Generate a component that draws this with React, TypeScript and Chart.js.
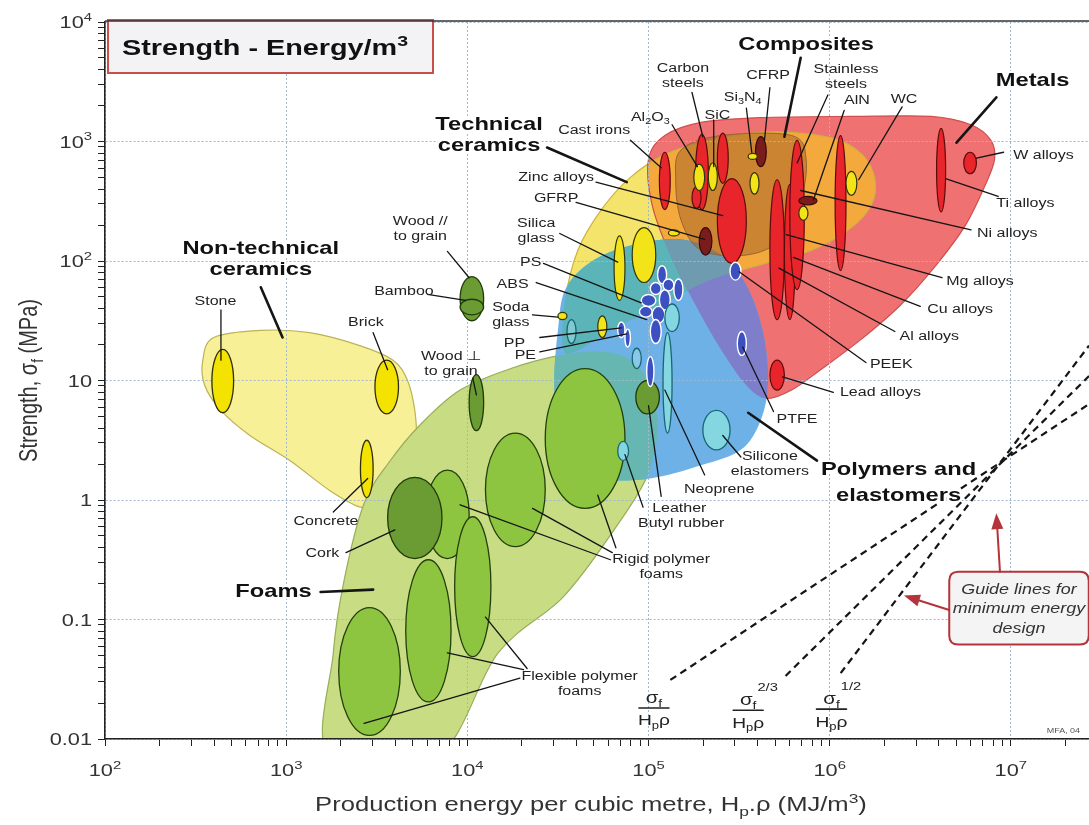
import React, { useEffect, useRef } from "react";
import { Chart, registerables } from "chart.js";

Chart.register(...registerables);

type Pair = [number, number];
type Material = [string, number, number, number, number];

// ---------------- Axes (energy in MJ/m^3, strength in MPa) ----------------
const X_MIN = 1e2;
const X_MAX = 2.7e7;
const Y_MIN = 1e-2;
const Y_MAX = 1e4;
const xTickValues = [1e2, 1e3, 1e4, 1e5, 1e6, 1e7];
const xTickLabels = ["10^{2}", "10^{3}", "10^{4}", "10^{5}", "10^{6}", "10^{7}"];
const yTickValues = [1e-2, 1e-1, 1, 10, 1e2, 1e3, 1e4];
const yTickLabels = ["0.01", "0.1", "1", "10", "10^{2}", "10^{3}", "10^{4}"];

// ---------------- Family envelopes: [log10 energy, log10 strength] ----------------
const nonTechCeramicsEnvelope: Pair[] = [
  [2.6, 1.36], [2.86, 1.42], [3.13, 1.4], [3.41, 1.29], [3.59, 1.17], [3.67, 1.0], [3.71, 0.75],
  [3.72, 0.5], [3.71, 0.25], [3.66, 0.04], [3.55, -0.06], [3.41, -0.06], [3.24, 0.08], [3.02, 0.33],
  [2.8, 0.54], [2.64, 0.75], [2.55, 0.96], [2.54, 1.17],
];
const foamsEnvelope: Pair[] = [
  [3.24, -2.15], [3.83, -2.15], [4.17, -1.28], [4.53, -0.81], [4.81, -0.25], [4.99, 0.19], [5.05, 0.59],
  [5.01, 0.96], [4.9, 1.17], [4.74, 1.24], [4.51, 1.21], [4.24, 1.1], [3.96, 0.92], [3.74, 0.63],
  [3.57, 0.32], [3.43, -0.03], [3.32, -0.67], [3.26, -1.28],
];
const techCeramicsEnvelope: Pair[] = [
  [4.53, 1.26], [4.54, 1.67], [4.61, 2.09], [4.74, 2.43], [4.9, 2.7], [5.09, 2.89], [5.34, 3.01],
  [5.67, 3.08], [6.01, 3.03], [6.18, 2.89], [6.25, 2.68], [6.23, 2.47], [6.12, 2.28], [5.9, 2.09],
  [5.62, 1.97], [5.34, 1.84], [5.07, 1.63], [4.79, 1.42], [4.62, 1.26],
];
const metalsEnvelope: Pair[] = [
  [5.0, 2.85], [5.09, 3.05], [5.29, 3.16], [5.62, 3.2], [6.12, 3.21], [6.56, 3.21], [6.78, 3.14],
  [6.89, 3.01], [6.91, 2.85], [6.86, 2.64], [6.75, 2.3], [6.59, 1.97], [6.39, 1.63], [6.17, 1.34],
  [5.95, 1.09], [5.79, 0.92], [5.65, 0.85], [5.54, 0.96], [5.4, 1.26], [5.26, 1.63], [5.12, 2.05],
  [5.02, 2.47],
];
const polymersEnvelope: Pair[] = [
  [4.5, 1.42], [4.54, 1.76], [4.68, 1.99], [4.9, 2.13], [5.18, 2.18], [5.4, 2.05], [5.54, 1.8],
  [5.63, 1.42], [5.66, 1.0], [5.62, 0.67], [5.51, 0.42], [5.29, 0.29], [5.01, 0.18], [4.74, 0.17],
  [4.57, 0.25], [4.5, 0.59], [4.48, 1.0],
];
const compositesEnvelope: Pair[] = [
  [5.18, 2.93], [5.4, 3.05], [5.79, 3.05], [5.87, 2.85], [5.84, 2.51], [5.73, 2.18], [5.54, 2.05],
  [5.29, 2.09], [5.18, 2.34], [5.15, 2.68],
];

// ---------------- Materials: [name, log10 E low, log10 E high, log10 σ low, log10 σ high] ----------------
const nonTechCeramics: Material[] = [
  ["Stone", 2.59, 2.71, 0.73, 1.26],
  ["Brick", 3.49, 3.62, 0.72, 1.17],
  ["Concrete", 3.41, 3.48, 0.02, 0.5],
];
const rigidFoams: Material[] = [
  ["Rigid foam HD", 4.43, 4.87, -0.07, 1.1],
  ["Rigid foam MD", 4.1, 4.43, -0.39, 0.56],
  ["Rigid foam LD", 3.77, 4.01, -0.49, 0.25],
];
const naturalMaterials: Material[] = [
  ["Cork", 3.56, 3.86, -0.49, 0.19],
  ["Wood ⊥ grain", 4.01, 4.09, 0.58, 1.05],
  ["Wood // grain", 3.96, 4.09, 1.5, 1.87],
  ["Bamboo", 3.96, 4.09, 1.55, 1.68],
  ["Leather", 4.93, 5.06, 0.72, 1.0],
];
const flexibleFoams: Material[] = [
  ["Flexible foam HD", 3.93, 4.13, -1.31, -0.14],
  ["Flexible foam MD", 3.66, 3.91, -1.69, -0.5],
  ["Flexible foam LD", 3.29, 3.63, -1.97, -0.9],
];
const metals: Material[] = [
  ["Cast irons", 5.06, 5.12, 2.43, 2.91],
  ["Carbon steels", 5.26, 5.33, 2.43, 3.06],
  ["Carbon steels (low)", 5.24, 5.29, 2.44, 2.62],
  ["Low alloy steels", 5.38, 5.44, 2.65, 3.07],
  ["Zinc alloys", 5.38, 5.54, 1.98, 2.69],
  ["Mg alloys", 5.67, 5.75, 1.51, 2.68],
  ["Cu alloys", 5.75, 5.81, 1.51, 2.64],
  ["Stainless steels", 5.78, 5.86, 1.76, 3.01],
  ["Ni alloys", 6.03, 6.09, 1.92, 3.05],
  ["Ti alloys", 6.59, 6.64, 2.41, 3.11],
  ["W alloys", 6.74, 6.81, 2.73, 2.91],
  ["Lead alloys", 5.67, 5.75, 0.92, 1.17],
];
const composites: Material[] = [
  ["GFRP", 5.28, 5.35, 2.05, 2.28],
  ["CFRP", 5.59, 5.65, 2.79, 3.04],
  ["Al-SiC", 5.83, 5.93, 2.47, 2.54],
];
const techCeramics: Material[] = [
  ["Silica glass", 4.81, 4.87, 1.67, 2.21],
  ["Glass ceramic", 4.91, 5.04, 1.82, 2.28],
  ["Soda glass", 4.5, 4.55, 1.51, 1.57],
  ["Borosilicate glass", 4.72, 4.77, 1.36, 1.54],
  ["Zirconia", 5.11, 5.17, 2.21, 2.26],
  ["Al2O3", 5.25, 5.31, 2.59, 2.81],
  ["SiC", 5.33, 5.38, 2.59, 2.82],
  ["Si3N4", 5.55, 5.6, 2.85, 2.9],
  ["B4C", 5.56, 5.61, 2.56, 2.74],
  ["WC", 6.09, 6.15, 2.55, 2.75],
  ["AlN", 5.83, 5.88, 2.34, 2.46],
];
const polymers: Material[] = [
  ["PEEK", 5.45, 5.51, 1.84, 1.99],
  ["PTFE", 5.49, 5.54, 1.21, 1.41],
  ["PMMA", 5.05, 5.1, 1.81, 1.96],
  ["PC", 5.01, 5.07, 1.72, 1.82],
  ["PA", 5.08, 5.14, 1.75, 1.85],
  ["PS", 4.96, 5.04, 1.62, 1.72],
  ["Epoxies", 5.06, 5.12, 1.59, 1.76],
  ["PET", 5.14, 5.19, 1.67, 1.85],
  ["ABS", 4.95, 5.02, 1.53, 1.62],
  ["PVC", 5.02, 5.09, 1.48, 1.62],
  ["Phenolics", 5.01, 5.07, 1.31, 1.51],
  ["Ionomer", 4.99, 5.03, 0.95, 1.2],
  ["PP", 4.83, 4.87, 1.36, 1.49],
  ["PE", 4.87, 4.9, 1.28, 1.43],
];
const elastomers: Material[] = [
  ["Polyurethane", 5.09, 5.17, 1.41, 1.64],
  ["Neoprene", 5.08, 5.13, 0.56, 1.4],
  ["Silicone elastomers", 5.3, 5.45, 0.42, 0.75],
  ["Butyl rubber", 4.83, 4.89, 0.33, 0.49],
];
const lightElastomers: Material[] = [
  ["Isoprene", 4.55, 4.6, 1.31, 1.51],
  ["EVA", 4.91, 4.96, 1.1, 1.27],
];

// ---------------- Guide lines for minimum energy design ----------------
const guideEnergy1 = [1.32e5, 2.7e7];
const guideStrength1 = [0.0312, 6.35]; // σf / Hpρ
const guideEnergy2 = [5.71e5, 2.7e7];
const guideStrength2 = [0.0337, 10.9]; // σf^2/3 / Hpρ
const guideEnergy3 = [1.15e6, 2.7e7];
const guideStrength3 = [0.0356, 19.6]; // σf^1/2 / Hpρ

// ---------------- Annotations (anchors in log10 data units) ----------------
const smallLabels: { t: string; at: Pair }[] = [
  { t: "Carbon\nsteels", at: [5.19, 3.56] },
  { t: "Al_{2}O_{3}", at: [5.01, 3.21] },
  { t: "SiC", at: [5.38, 3.23] },
  { t: "Si_{3}N_{4}", at: [5.52, 3.38] },
  { t: "CFRP", at: [5.66, 3.56] },
  { t: "Stainless\nsteels", at: [6.09, 3.55] },
  { t: "AlN", at: [6.15, 3.35] },
  { t: "WC", at: [6.41, 3.36] },
  { t: "W alloys", at: [7.18, 2.89] },
  { t: "Ti alloys", at: [7.08, 2.49] },
  { t: "Ni alloys", at: [6.98, 2.24] },
  { t: "Mg alloys", at: [6.83, 1.84] },
  { t: "Cu alloys", at: [6.72, 1.6] },
  { t: "Al alloys", at: [6.55, 1.38] },
  { t: "PEEK", at: [6.34, 1.14] },
  { t: "Lead alloys", at: [6.28, 0.91] },
  { t: "PTFE", at: [5.82, 0.68] },
  { t: "Silicone\nelastomers", at: [5.67, 0.31] },
  { t: "Neoprene", at: [5.39, 0.1] },
  { t: "Leather", at: [5.17, -0.06] },
  { t: "Butyl rubber", at: [5.18, -0.19] },
  { t: "Rigid polymer\nfoams", at: [5.07, -0.55] },
  { t: "Flexible polymer\nfoams", at: [4.62, -1.53] },
  { t: "Concrete", at: [3.22, -0.17] },
  { t: "Cork", at: [3.2, -0.44] },
  { t: "Stone", at: [2.61, 1.67] },
  { t: "Brick", at: [3.44, 1.49] },
  { t: "Bamboo", at: [3.65, 1.75] },
  { t: "Wood //\nto grain", at: [3.74, 2.28] },
  { t: "Wood ⊥\nto grain", at: [3.91, 1.15] },
  { t: "Cast irons", at: [4.7, 3.1] },
  { t: "Zinc alloys", at: [4.49, 2.71] },
  { t: "GFRP", at: [4.49, 2.53] },
  { t: "Silica\nglass", at: [4.38, 2.26] },
  { t: "PS", at: [4.35, 2.0] },
  { t: "ABS", at: [4.25, 1.81] },
  { t: "Soda\nglass", at: [4.24, 1.56] },
  { t: "PP", at: [4.26, 1.32] },
  { t: "PE", at: [4.32, 1.22] },
];
const familyLabels: { t: string; at: Pair; lh?: number }[] = [
  { t: "Composites", at: [5.87, 3.82] },
  { t: "Metals", at: [7.12, 3.52] },
  { t: "Polymers and\nelastomers", at: [6.38, 0.16], lh: 26 },
  { t: "Foams", at: [2.93, -0.76] },
  { t: "Non-technical\nceramics", at: [2.86, 2.03] },
  { t: "Technical\nceramics", at: [4.12, 3.06] },
];
// [E1, σ1, E2, σ2, thick]
const leaderLines: number[][] = [
  [5.24, 3.41, 5.3, 3.04, 0], [5.13, 3.14, 5.27, 2.79, 0], [5.36, 3.18, 5.36, 2.79, 0],
  [5.54, 3.28, 5.57, 2.91, 0], [5.67, 3.45, 5.64, 3.01, 0], [5.84, 3.7, 5.75, 3.04, 1],
  [5.99, 3.39, 5.82, 2.82, 0], [6.08, 3.26, 5.91, 2.51, 0], [6.4, 3.29, 6.16, 2.68, 0],
  [6.92, 3.37, 6.7, 2.99, 1], [6.96, 2.91, 6.81, 2.86, 0], [6.93, 2.54, 6.64, 2.69, 0],
  [6.78, 2.26, 5.84, 2.59, 0], [6.62, 1.86, 5.76, 2.22, 0], [6.5, 1.62, 5.8, 2.03, 0],
  [6.36, 1.41, 5.72, 1.94, 0], [6.2, 1.15, 5.5, 1.91, 0], [6.02, 0.9, 5.74, 1.03, 0],
  [5.69, 0.74, 5.52, 1.28, 0], [5.51, 0.36, 5.41, 0.54, 0], [5.93, 0.33, 5.55, 0.73, 1],
  [5.31, 0.21, 5.09, 0.92, 0], [5.07, 0.03, 5.0, 0.79, 0], [4.97, -0.06, 4.87, 0.38, 0],
  [4.82, -0.4, 4.72, 0.04, 0], [4.8, -0.44, 4.36, -0.07, 0], [4.79, -0.5, 3.96, -0.04, 0],
  [4.33, -1.41, 4.1, -0.98, 0], [4.31, -1.42, 3.89, -1.28, 0], [4.29, -1.49, 3.43, -1.87, 0],
  [3.26, -0.1, 3.45, 0.18, 0], [3.33, -0.44, 3.6, -0.25, 0], [3.19, -0.77, 3.48, -0.75, 1],
  [2.64, 1.59, 2.64, 1.17, 0], [3.48, 1.4, 3.56, 1.09, 0], [2.86, 1.78, 2.98, 1.36, 1],
  [3.78, 1.72, 3.99, 1.67, 0], [3.89, 2.08, 4.01, 1.86, 0], [4.03, 1.02, 4.05, 0.88, 0],
  [4.44, 2.95, 4.88, 2.66, 1], [4.9, 3.01, 5.07, 2.78, 0], [4.71, 2.66, 5.41, 2.38, 0],
  [4.6, 2.49, 5.31, 2.18, 0], [4.51, 2.23, 4.83, 1.99, 0], [4.42, 1.98, 4.96, 1.65, 0],
  [4.38, 1.82, 4.99, 1.51, 0], [4.36, 1.55, 4.5, 1.53, 0], [4.4, 1.36, 4.85, 1.44, 0],
  [4.4, 1.24, 4.88, 1.39, 0],
];
const guideFractions: { at: Pair; sup: string }[] = [
  { at: [5.03, -1.74], sup: "" },
  { at: [5.55, -1.76], sup: "2/3" },
  { at: [6.01, -1.75], sup: "1/2" },
];
const guideBox: Pair[] = [[6.66, -0.6], [7.43, -1.21]];
const guideBoxText = ["Guide lines for", "minimum energy", "design"];
const guideArrows: number[][] = [
  [6.94, -0.6, 6.92, -0.11],
  [6.66, -0.92, 6.41, -0.8],
];

// ---------------- Styling ----------------
const FONT = '"Liberation Sans", Arial, Helvetica, sans-serif';
const HS = 1.28; // horizontal text stretch of the original figure
const GRID = "#a3b8cc";
const COL = {
  nonTech: "#f7f097",
  nonTechEdge: "#bdb255",
  foams: "#c8dc83",
  foamsEdge: "#97ad5a",
  ceramics: "#f4e46c",
  ceramicsEdge: "#cbb43e",
  metals: "#ef7171",
  metalsEdge: "#cf4f4f",
  cerMet: "#f4a93d",
  polymers: "#6db1e6",
  polyCer: "#5bb4b8",
  polyMet: "#7e7ecb",
  polyCerMet: "#6e9bb0",
  polyFoam: "#66b7b2",
  composites: "rgba(160,95,40,0.5)",
  compositesEdge: "#9a6430",
};

function isDecade(v: any) {
  if (!(v > 0)) return false;
  const l = Math.log10(v);
  return Math.abs(l - Math.round(l)) < 1e-6;
}
function isIntMantissa(v: number) {
  if (!(v > 0)) return false;
  const m = v / Math.pow(10, Math.floor(Math.log10(v) + 1e-9));
  return Math.abs(m - Math.round(m)) < 1e-6;
}

function runsOf(s: string) {
  const out: { t: string; k: number }[] = [];
  let buf = "";
  for (let i = 0; i < s.length; i++) {
    const c = s[i];
    if ((c === "_" || c === "^") && s[i + 1] === "{") {
      if (buf) { out.push({ t: buf, k: 0 }); buf = ""; }
      const end = s.indexOf("}", i);
      out.push({ t: s.slice(i + 2, end), k: c === "_" ? 1 : 2 });
      i = end;
    } else buf += c;
  }
  if (buf) out.push({ t: buf, k: 0 });
  return out;
}

function drawRich(ctx: CanvasRenderingContext2D, s: string, x: number, y: number, size: number, o: any = {}) {
  const runs = runsOf(s);
  const pre = (o.italic ? "italic " : "") + (o.bold ? "bold " : "");
  const fnt = (k: number) => `${pre}${k ? (size * 0.68).toFixed(1) : size}px ${FONT}`;
  ctx.save();
  ctx.translate(x, y);
  if (o.rotate) { ctx.rotate(-Math.PI / 2); ctx.scale(1, HS); } else ctx.scale(HS, 1);
  ctx.textBaseline = "alphabetic";
  ctx.textAlign = "left";
  let w = 0;
  const ws = runs.map((r) => { ctx.font = fnt(r.k); const m = ctx.measureText(r.t).width; w += m; return m; });
  const x0 = o.align === "left" ? 0 : o.align === "right" ? -w : -w / 2;
  const base = size * 0.36;
  const pass = (stroke: boolean) => {
    let cx = x0;
    runs.forEach((r, i) => {
      ctx.font = fnt(r.k);
      const dy = base + (r.k === 1 ? size * 0.24 : r.k === 2 ? -size * 0.42 : 0);
      if (stroke) ctx.strokeText(r.t, cx, dy); else ctx.fillText(r.t, cx, dy);
      cx += ws[i];
    });
  };
  if (o.halo) { ctx.strokeStyle = "#fff"; ctx.lineWidth = o.halo; ctx.lineJoin = "round"; pass(true); }
  ctx.fillStyle = o.color || "#1c1c1c";
  pass(false);
  ctx.restore();
  return w * HS;
}

function smoothPath(ctx: CanvasRenderingContext2D, pts: number[][]) {
  const n = pts.length;
  ctx.beginPath();
  ctx.moveTo(pts[0][0], pts[0][1]);
  for (let i = 0; i < n; i++) {
    const p0 = pts[(i - 1 + n) % n], p1 = pts[i], p2 = pts[(i + 1) % n], p3 = pts[(i + 2) % n];
    const t = 1 / 6;
    ctx.bezierCurveTo(
      p1[0] + (p2[0] - p0[0]) * t, p1[1] + (p2[1] - p0[1]) * t,
      p2[0] - (p3[0] - p1[0]) * t, p2[1] - (p3[1] - p1[1]) * t,
      p2[0], p2[1]
    );
  }
  ctx.closePath();
}

function roundRect(ctx: CanvasRenderingContext2D, x: number, y: number, w: number, h: number, r: number) {
  ctx.beginPath();
  ctx.moveTo(x + r, y);
  ctx.lineTo(x + w - r, y);
  ctx.quadraticCurveTo(x + w, y, x + w, y + r);
  ctx.lineTo(x + w, y + h - r);
  ctx.quadraticCurveTo(x + w, y + h, x + w - r, y + h);
  ctx.lineTo(x + r, y + h);
  ctx.quadraticCurveTo(x, y + h, x, y + h - r);
  ctx.lineTo(x, y + r);
  ctx.quadraticCurveTo(x, y, x + r, y);
  ctx.closePath();
}

function mapper(chart: any) {
  const xs = chart.scales.x, ys = chart.scales.y;
  const px = (le: number) => xs.getPixelForValue(Math.pow(10, le));
  const py = (ls: number) => ys.getPixelForValue(Math.pow(10, ls));
  return { px, py };
}

const ashbyPlugin = {
  id: "ashby",
  beforeDraw(chart: any) {
    const { ctx, chartArea: a } = chart;
    const { px, py } = mapper(chart);
    ctx.save();
    ctx.fillStyle = "#ffffff";
    ctx.fillRect(0, 0, chart.width, chart.height);
    ctx.beginPath();
    ctx.rect(a.left, a.top, a.right - a.left, a.bottom - a.top);
    ctx.clip();
    const path = (env: Pair[]) => smoothPath(ctx, env.map((p) => [px(p[0]), py(p[1])]));
    const fillEnv = (env: Pair[], c: string) => { path(env); ctx.fillStyle = c; ctx.fill(); };
    const strokeEnv = (env: Pair[], c: string, w = 1.2) => { path(env); ctx.strokeStyle = c; ctx.lineWidth = w; ctx.stroke(); };
    const clipTo = (env: Pair[]) => { path(env); ctx.clip(); };

    fillEnv(nonTechCeramicsEnvelope, COL.nonTech);
    strokeEnv(nonTechCeramicsEnvelope, COL.nonTechEdge);
    fillEnv(foamsEnvelope, COL.foams);
    strokeEnv(foamsEnvelope, COL.foamsEdge);
    fillEnv(techCeramicsEnvelope, COL.ceramics);
    fillEnv(metalsEnvelope, COL.metals);
    ctx.save(); clipTo(techCeramicsEnvelope); fillEnv(metalsEnvelope, COL.cerMet); ctx.restore();
    strokeEnv(techCeramicsEnvelope, COL.ceramicsEdge);
    strokeEnv(metalsEnvelope, COL.metalsEdge);
    fillEnv(polymersEnvelope, COL.polymers);
    ctx.save();
    clipTo(polymersEnvelope);
    fillEnv(techCeramicsEnvelope, COL.polyCer);
    fillEnv(metalsEnvelope, COL.polyMet);
    fillEnv(foamsEnvelope, COL.polyFoam);
    clipTo(techCeramicsEnvelope);
    fillEnv(metalsEnvelope, COL.polyCerMet);
    ctx.restore();
    fillEnv(compositesEnvelope, COL.composites);
    strokeEnv(compositesEnvelope, COL.compositesEdge, 1);
    ctx.restore();
  },
  beforeDatasetsDraw(chart: any) {
    const { ctx, chartArea: a } = chart;
    const { px, py } = mapper(chart);
    ctx.save();
    ctx.beginPath();
    ctx.rect(a.left, a.top, a.right - a.left, a.bottom - a.top);
    ctx.clip();
    const draw = (list: Material[], fill: string, stroke: string, lw: number) => {
      for (const m of list) {
        const x1 = px(m[1]), x2 = px(m[2]), y1 = py(m[3]), y2 = py(m[4]);
        ctx.beginPath();
        ctx.ellipse((x1 + x2) / 2, (y1 + y2) / 2, Math.abs(x2 - x1) / 2, Math.abs(y1 - y2) / 2, 0, 0, Math.PI * 2);
        ctx.fillStyle = fill;
        ctx.fill();
        ctx.lineWidth = lw;
        ctx.strokeStyle = stroke;
        ctx.stroke();
      }
    };
    draw(nonTechCeramics, "#f4e300", "#2e2e10", 1.3);
    draw(rigidFoams, "#8dc540", "#233f0c", 1.3);
    draw(naturalMaterials, "#6b9b33", "#213a0b", 1.3);
    draw(flexibleFoams, "#8dc540", "#233f0c", 1.3);
    draw(metals, "#e8252b", "#5a0b0b", 1.2);
    draw(composites, "#7a1c1c", "#3a0808", 1.2);
    draw(techCeramics, "#f2e418", "#33330a", 1.2);
    draw(polymers, "#3c50c2", "#ffffff", 1.4);
    draw(elastomers, "#84d6e0", "#1b6677", 1.3);
    draw(lightElastomers, "rgba(170,228,236,0.45)", "#1b6677", 1.3);
    ctx.restore();
  },
  afterDatasetsDraw(chart: any) {
    const { ctx, chartArea: a } = chart;
    const { px, py } = mapper(chart);
    ctx.save();
    // leader lines
    ctx.lineCap = "round";
    for (const l of leaderLines) {
      ctx.beginPath();
      ctx.moveTo(px(l[0]), py(l[1]));
      ctx.lineTo(px(l[2]), py(l[3]));
      ctx.strokeStyle = "#151515";
      ctx.lineWidth = l[4] ? 2.6 : 1.3;
      ctx.stroke();
    }
    // small labels
    for (const lab of smallLabels) {
      const lines = lab.t.split("\n");
      const lh = 15;
      const x = px(lab.at[0]);
      const y0 = py(lab.at[1]) - ((lines.length - 1) * lh) / 2;
      lines.forEach((s, i) => drawRich(ctx, s, x, y0 + i * lh, 12.5, { color: "#222" }));
    }
    // family labels
    for (const lab of familyLabels) {
      const lines = lab.t.split("\n");
      const lh = lab.lh || 21;
      const x = px(lab.at[0]);
      const y0 = py(lab.at[1]) - ((lines.length - 1) * lh) / 2;
      lines.forEach((s, i) => drawRich(ctx, s, x, y0 + i * lh, 18.5, { bold: true, color: "#111", halo: 4 }));
    }
    // guide-line index fractions
    for (const f of guideFractions) {
      const cx = px(f.at[0]);
      const cy = py(f.at[1]);
      const w = drawRich(ctx, "σ_{f}", cx, cy - 11, 16, { color: "#222" });
      if (f.sup) drawRich(ctx, f.sup, cx + w / 2 + 1, cy - 23, 11.5, { color: "#222", align: "left" });
      ctx.beginPath();
      ctx.moveTo(cx - 15, cy);
      ctx.lineTo(cx + 15, cy);
      ctx.strokeStyle = "#222";
      ctx.lineWidth = 1.6;
      ctx.stroke();
      drawRich(ctx, "H_{p}ρ", cx, cy + 12, 15, { color: "#222" });
    }
    // guide box
    const bx1 = px(guideBox[0][0]), by1 = py(guideBox[0][1]);
    const bx2 = px(guideBox[1][0]), by2 = py(guideBox[1][1]);
    roundRect(ctx, bx1, by1, bx2 - bx1, by2 - by1, 9);
    ctx.fillStyle = "#f4f4f4";
    ctx.fill();
    ctx.strokeStyle = "#b3343b";
    ctx.lineWidth = 2;
    ctx.stroke();
    const gcx = (bx1 + bx2) / 2, gcy = (by1 + by2) / 2;
    guideBoxText.forEach((s, i) => drawRich(ctx, s, gcx, gcy + (i - 1) * 19.5, 14, { italic: true, color: "#333" }));
    for (const ar of guideArrows) {
      const x1 = px(ar[0]), y1 = py(ar[1]), x2 = px(ar[2]), y2 = py(ar[3]);
      const ang = Math.atan2(y2 - y1, x2 - x1);
      const L = 16, W = 6;
      const hx = x2 - L * Math.cos(ang), hy = y2 - L * Math.sin(ang);
      ctx.strokeStyle = "#b3343b";
      ctx.fillStyle = "#b3343b";
      ctx.lineWidth = 2;
      ctx.beginPath(); ctx.moveTo(x1, y1); ctx.lineTo(hx, hy); ctx.stroke();
      ctx.beginPath();
      ctx.moveTo(x2, y2);
      ctx.lineTo(hx + W * Math.sin(ang), hy - W * Math.cos(ang));
      ctx.lineTo(hx - W * Math.sin(ang), hy + W * Math.cos(ang));
      ctx.closePath();
      ctx.fill();
    }
    drawRich(ctx, "MFA, 04", px(7.29), py(-1.93), 7, { color: "#555" });
    // title box
    const tx = a.left + 3, ty = a.top - 2;
    ctx.beginPath();
    ctx.rect(tx, ty, 325, 53);
    ctx.fillStyle = "#f3f2f5";
    ctx.fill();
    ctx.strokeStyle = "#c8504a";
    ctx.lineWidth = 2;
    ctx.stroke();
    drawRich(ctx, "Strength - Energy/m^{3}", tx + 14, ty + 27, 22.5, { bold: true, color: "#111", align: "left" });
    ctx.restore();
  },
  afterDraw(chart: any) {
    const { ctx, chartArea: a, scales } = chart;
    ctx.save();
    ctx.beginPath();
    ctx.moveTo(a.left, a.top - 1);
    ctx.lineTo(a.right, a.top - 1);
    ctx.strokeStyle = "#333";
    ctx.lineWidth = 1.5;
    ctx.stroke();
    xTickValues.forEach((v, i) =>
      drawRich(ctx, xTickLabels[i], scales.x.getPixelForValue(v), a.bottom + 31, 17, { color: "#333" })
    );
    yTickValues.forEach((v, i) =>
      drawRich(ctx, yTickLabels[i], a.left - 13, scales.y.getPixelForValue(v), 17, { color: "#333", align: "right" })
    );
    drawRich(ctx, "Strength, σ_{f} (MPa)", 28, (a.top + a.bottom) / 2, 20, { color: "#333", rotate: true });
    drawRich(ctx, "Production energy per cubic metre, H_{p}.ρ (MJ/m^{3})", a.left + 486, a.bottom + 65, 20, { color: "#333" });
    ctx.restore();
  },
};

function guideDataset(es: number[], ss: number[]) {
  return {
    data: es.map((e, i) => ({ x: e, y: ss[i] })),
    showLine: true,
    borderColor: "#151515",
    borderWidth: 2.2,
    borderDash: [7, 5],
    pointRadius: 0,
    fill: false,
  };
}

export default function App() {
  const ref = useRef<HTMLCanvasElement>(null);
  useEffect(() => {
    document.body.style.margin = "0";
    const canvas = ref.current;
    if (!canvas) return;
    const axisCommon = (size: number, isX: boolean) => ({
      type: "logarithmic" as const,
      afterFit: (s: any) => {
        if (isX) s.height = size; else s.width = size;
      },
      afterBuildTicks: (s: any) => {
        s.ticks = s.ticks.filter((t: any) => isIntMantissa(t.value));
      },
      ticks: { display: false, autoSkip: false },
      grid: {
        color: (c: any) => (isDecade(c.tick && c.tick.value) ? GRID : "rgba(0,0,0,0)"),
        lineWidth: 1,
        tickColor: "#222",
        tickLength: 7,
        tickWidth: 1,
        drawTicks: true,
      },
      border: { display: true, color: "#222", width: 1.6, dash: [2, 2] },
    });
    const chart = new Chart(canvas, {
      type: "scatter",
      data: {
        datasets: [
          guideDataset(guideEnergy1, guideStrength1),
          guideDataset(guideEnergy2, guideStrength2),
          guideDataset(guideEnergy3, guideStrength3),
        ],
      },
      options: {
        animation: false,
        responsive: false,
        devicePixelRatio: 1,
        layout: { padding: { top: 22, left: 0, right: 0, bottom: 0 } },
        plugins: { legend: { display: false }, tooltip: { enabled: false }, title: { display: false } },
        scales: {
          x: { ...axisCommon(86, true), position: "bottom", min: X_MIN, max: X_MAX },
          y: { ...axisCommon(105, false), position: "left", min: Y_MIN, max: Y_MAX },
        },
      } as any,
      plugins: [ashbyPlugin],
    });
    return () => chart.destroy();
  }, []);
  return (
    <div style={{ width: 1089, height: 825, background: "#fff" }}>
      <canvas ref={ref} width={1089} height={825} style={{ display: "block", width: 1089, height: 825 }} />
    </div>
  );
}
